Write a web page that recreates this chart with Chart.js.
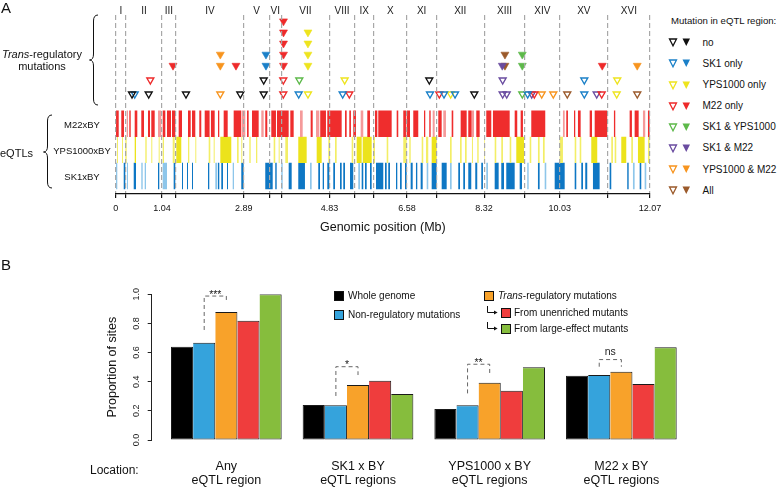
<!DOCTYPE html>
<html>
<head>
<meta charset="utf-8">
<script src="https://cdn.jsdelivr.net/npm/chart.js@4.4.1/dist/chart.umd.min.js"></script>
<style>
  body { margin: 0; width: 778px; height: 488px; position: relative; overflow: hidden; background: #fff;
         font-family: "Liberation Sans", Arial, sans-serif; color: #111; }
  .box { position: absolute; }
  .t { position: absolute; white-space: nowrap; transform: translateY(-50%); line-height: 1; }
  .sq { position: absolute; width: 8px; height: 8px; border: 1px solid #111; box-sizing: content-box; transform: translateY(-50%); }
  #overlay { position: absolute; left: 0; top: 0; pointer-events: none; }
</style>
</head>
<body>

<div id="boxA" class="box" style="left:0;top:0;width:668px;height:240px"><canvas id="chartA"></canvas></div>
<div id="boxB" class="box" style="left:0;top:250px;width:778px;height:238px"><canvas id="chartB"></canvas></div>

<!-- panel letters and side labels -->
<div class="t" style="left:1px;top:7px;font-size:15px">A</div>
<div class="t" style="left:1px;top:264px;font-size:15px">B</div>
<div class="t" style="left:0;width:84px;top:61px;font-size:11px;line-height:11.7px;text-align:center"><i>Trans</i>-regulatory<br>mutations</div>
<div class="t" style="left:0;top:153px;font-size:11px">eQTLs</div>
<div class="t" style="left:51px;width:62px;top:125px;font-size:9.5px;text-align:center">M22xBY</div>
<div class="t" style="left:51px;width:62px;top:151px;font-size:9.5px;text-align:center">YPS1000xBY</div>
<div class="t" style="left:51px;width:62px;top:177px;font-size:9.5px;text-align:center">SK1xBY</div>
<div class="t" style="left:671px;top:21px;font-size:9.6px">Mutation in eQTL region:</div>
<div id="legendA"></div>

<!-- panel B legend -->
<div class="sq" style="left:334px;top:296px;background:#000"></div>
<div class="t" style="left:348px;top:296px;font-size:10px">Whole genome</div>
<div class="sq" style="left:334px;top:315px;background:#35a3dc"></div>
<div class="t" style="left:348px;top:315px;font-size:10px">Non-regulatory mutations</div>
<div class="sq" style="left:484px;top:296px;background:#f8a22a"></div>
<div class="t" style="left:498px;top:296px;font-size:10px"><i>Trans</i>-regulatory mutations</div>
<div class="sq" style="left:501px;top:313px;background:#ef3d3d"></div>
<div class="t" style="left:514px;top:313px;font-size:10px">From unenriched mutants</div>
<div class="sq" style="left:501px;top:329px;background:#86bd3d"></div>
<div class="t" style="left:514px;top:329px;font-size:10px">From large-effect mutants</div>
<div class="t" style="left:90px;top:470px;font-size:12px">Location:</div>

<svg id="overlay" width="778" height="488">
  <g fill="none" stroke="#111" stroke-width="1">
    <path d="M98 15 Q93.5 15 93.5 21 L93.5 54 Q93.5 60 89.5 60 Q93.5 60 93.5 66 L93.5 99 Q93.5 105 98 105"/>
    <path d="M52 115 Q47.5 115 47.5 121 L47.5 146 Q47.5 152 43.5 152 Q47.5 152 47.5 158 L47.5 182 Q47.5 188 52 188"/>
    <path d="M487.5 306 L487.5 312.5 L494.5 312.5"/>
    <path d="M487.5 322 L487.5 328.5 L494.5 328.5"/>
  </g>
  <polygon points="494,310.6 497.6,312.5 494,314.4" fill="#111"/>
  <polygon points="494,326.6 497.6,328.5 494,330.4" fill="#111"/>
</svg>

<script>
Chart.defaults.font.family = '"Liberation Sans", Arial, sans-serif';
Chart.defaults.color = '#111';

// ---------- Panel A data ----------
const chrNames = ['I','II','III','IV','V','VI','VII','VIII','IX','X','XI','XII','XIII','XIV','XV','XVI'];
const chrLengths = [0.230, 0.813, 0.317, 1.532, 0.577, 0.270, 1.091, 0.563, 0.440, 0.746, 0.667, 1.078, 0.924, 0.784, 1.091, 0.948];
const labeledBoundaries = [0, 2, 4, 7, 10, 12, 14, 16];

// mutation classes (legend order)
const mutClasses = ['no', 'SK1 only', 'YPS1000 only', 'M22 only', 'SK1 & YPS1000', 'SK1 & M22', 'YPS1000 & M22', 'All'];
const mutColors = ['#111111', '#1b80c8', '#eee41e', '#ee2a2a', '#5db94a', '#6a4ca0', '#f7941e', '#9b5a2b'];

// trans-regulatory mutations: [position (Mb), stack row]
const noOpen = [[0.366,1],[0.743,1],[1.586,1],[2.814,1],[3.342,1],[3.342,2],[7.085,2],[8.102,1]];
const noFilled = [];
const sk1Open = [[0.427,1],[4.133,1],[5.127,1],[7.101,1],[7.417,1],[7.666,1],[9.308,1],[10.588,1],[10.588,2]];
const sk1Filled = [[3.394,1],[3.394,2]];
const ypsOpen = [[4.343,1],[5.172,2],[7.568,1],[11.320,1],[11.333,2]];
const ypsFilled = [[4.343,1],[4.343,2],[4.343,3],[4.343,4]];
const m22Open = [[0.780,2],[3.785,1],[3.785,2],[5.277,1],[7.311,1],[9.458,1],[10.981,1]];
const m22Filled = [[1.293,1],[2.716,1],[3.790,1],[3.790,2],[3.790,3],[3.790,4],[3.790,5],[10.994,1]];
const sk1YpsOpen = [[4.147,2],[9.187,1]];
const sk1YpsFilled = [[9.187,1],[9.187,2]];
const sk1M22Open = [[8.743,1],[8.743,2],[8.834,1],[9.399,1],[10.868,1]];
const sk1M22Filled = [[8.735,1]];
const ypsM22Open = [[2.362,1],[9.625,1],[9.887,1]];
const ypsM22Filled = [[2.362,1],[2.362,2],[11.785,1]];
const allOpen = [[10.203,1],[11.785,1]];
const allFilled = [[8.795,1],[8.795,2]];

// eQTL intervals [start, end] in Mb
const m22Strong = [[0.005,0.066],[0.124,0.185],[0.305,0.337],[0.427,0.486],[0.576,0.637],[0.728,0.773],[0.802,0.879],[1.060,1.119],[1.157,1.247],[1.270,1.345],[1.421,1.496],[1.632,1.693],[1.722,1.797],[1.887,1.932],[2.009,2.120],[2.150,2.235],[2.310,2.339],[2.438,2.529],[2.664,2.836],[2.965,3.003],[3.078,3.229],[3.378,3.424],[3.514,3.620],[3.643,3.907],[3.944,4.020],[4.404,4.450],[4.620,4.750],[4.780,5.105],[5.180,5.218],[5.277,5.315],[5.367,5.428],[5.684,5.745],[5.858,5.910],[5.932,6.235],[6.348,6.384],[6.497,6.558],[6.574,6.649],[6.723,6.836],[6.965,6.994],[7.085,7.116],[7.288,7.365],[7.591,7.627],[7.794,7.930],[7.966,8.043],[8.147,8.224],[8.373,8.486],[8.524,8.902],[9.015,9.073],[9.150,9.202],[9.390,9.706],[10.181,10.219],[10.355,10.384],[10.445,10.506],[10.710,10.762],[10.823,11.107],[11.258,11.288],[11.613,11.665],[11.726,11.817],[12.027,12.066]];
const m22Weak = [[0.246,0.276],[0.954,1.028],[2.852,2.927],[3.288,3.342],[4.163,4.224],[4.524,4.600],[5.534,5.593],[7.162,7.207],[7.401,7.462],[8.050,8.095],[10.106,10.145],[11.914,11.966]];
const ypsStrong = [[0.427,0.456],[1.367,1.480],[2.362,2.610],[4.124,4.314],[4.540,4.653],[5.444,5.557],[5.580,5.783],[7.139,7.252],[9.051,9.225],[10.746,10.881],[11.424,11.537],[11.801,11.952]];
const ypsWeak = [[0.027,0.050],[0.140,0.163],[0.215,0.246],[0.576,0.592],[0.667,0.698],[0.802,0.825],[0.969,0.992],[1.060,1.089],[1.286,1.331],[1.632,1.661],[1.797,1.819],[1.932,1.948],[2.099,2.136],[2.212,2.235],[2.739,2.777],[2.836,2.859],[3.017,3.049],[3.168,3.198],[3.568,3.604],[3.681,3.704],[3.831,3.892],[4.802,4.841],[4.954,4.992],[5.331,5.367],[5.819,5.858],[6.122,6.158],[6.497,6.574],[6.633,6.665],[6.913,6.949],[7.010,7.062],[7.553,7.591],[7.779,7.817],[7.892,7.930],[8.049,8.072],[8.169,8.201],[8.321,8.337],[8.563,8.599],[8.712,8.750],[8.902,8.938],[9.354,9.390],[9.541,9.579],[9.654,9.693],[10.032,10.106],[10.371,10.407],[10.484,10.520],[11.198,11.236],[11.275,11.311],[11.650,11.688],[12.027,12.066]];
const sk1Strong = [[0.179,0.215],[0.405,0.456],[0.954,0.983],[1.308,1.345],[1.496,1.519],[1.609,1.632],[1.722,1.745],[2.084,2.113],[2.310,2.339],[2.384,2.423],[2.513,2.536],[2.836,2.890],[3.378,3.546],[3.604,3.636],[3.907,3.975],[4.124,4.275],[4.576,4.615],[4.676,4.705],[4.780,4.825],[4.915,4.954],[5.067,5.105],[5.141,5.180],[5.293,5.367],[5.557,5.593],[5.632,5.670],[5.745,5.783],[5.880,6.045],[6.084,6.122],[6.158,6.197],[6.332,6.362],[6.423,6.462],[6.536,6.574],[6.664,6.710],[6.784,6.814],[6.890,6.936],[7.139,7.252],[7.365,7.478],[7.740,7.779],[7.853,7.892],[7.966,8.034],[8.124,8.169],[8.260,8.298],[8.563,8.653],[8.712,8.773],[8.825,9.015],[9.128,9.180],[9.541,9.579],[9.919,10.145],[10.371,10.407],[10.520,10.559],[10.610,10.655],[10.784,10.935],[11.161,11.198],[11.559,11.591],[11.840,11.876]];
const sk1Weak = [[0.005,0.034],[0.253,0.276],[0.576,0.608],[0.653,0.682],[1.060,1.157],[2.249,2.294],[2.642,2.671],[3.740,3.772],[4.389,4.427],[5.480,5.519],[7.026,7.062],[7.553,7.591],[8.373,8.411],[9.299,9.331],[9.693,9.729],[11.688,11.726],[11.952,11.989]];

// ---------- Panel B data ----------
const locations = [['Any', 'eQTL region'], ['SK1 x BY', 'eQTL regions'], ['YPS1000 x BY', 'eQTL regions'], ['M22 x BY', 'eQTL regions']];
const wholeGenome = [0.640, 0.240, 0.213, 0.441];
const nonRegulatory = [0.668, 0.238, 0.238, 0.446];
const transRegulatory = [0.879, 0.377, 0.393, 0.469];
const fromUnenriched = [0.819, 0.407, 0.338, 0.384];
const fromLargeEffect = [1.000, 0.316, 0.499, 0.636];
// non-regulatory vs trans-regulatory comparison brackets
const bracketTop = [0.988, 0.503, 0.520, 0.552];
const bracketLeftEnd = [0.755, 0.302, 0.320, 0.503];
const bracketRightEnd = [0.945, 0.446, 0.458, 0.503];
const sigText = ['***', '*', '**', 'ns'];

// ---------- Panel A ----------
const bounds = [0];
chrLengths.forEach(l => bounds.push(bounds[bounds.length - 1] + l));
const genomeEnd = bounds[bounds.length - 1];
const mids = chrLengths.map((l, i) => bounds[i] + l / 2);

const OPEN_STEP = 1.26;
const FILLED_BASE = 1.56;

function triSet(list, color, filled) {
  return {
    type: 'scatter',
    yAxisID: 'yTri',
    data: list.map(([pos, row]) => ({ x: pos, y: filled ? FILLED_BASE + row : (row - 1) * OPEN_STEP })),
    pointStyle: 'triangle',
    pointRotation: 180,
    pointRadius: filled ? 4.6 : 4.0,
    pointBackgroundColor: filled ? color : 'rgba(255,255,255,0)',
    pointBorderColor: color,
    pointBorderWidth: filled ? 0.6 : 1.4
  };
}

function eqtlSet(list, row, color) {
  const pts = [];
  list.slice().sort((a, b) => a[0] - b[0]).forEach(([a, b]) => {
    pts.push({ x: a, y: row }, { x: b, y: row }, { x: b, y: null });
  });
  return {
    type: 'line',
    yAxisID: 'yQ',
    data: pts,
    borderColor: color,
    borderWidth: 26.4,
    borderCapStyle: 'butt',
    pointRadius: 0,
    tension: 0,
    spanGaps: false,
    fill: false
  };
}

const openLists = [noOpen, sk1Open, ypsOpen, m22Open, sk1YpsOpen, sk1M22Open, ypsM22Open, allOpen];
const filledLists = [noFilled, sk1Filled, ypsFilled, m22Filled, sk1YpsFilled, sk1M22Filled, ypsM22Filled, allFilled];

const datasetsA = [
  eqtlSet(m22Weak, 2.5, '#f59a9a'),
  eqtlSet(m22Strong, 2.5, '#ef2d2d'),
  eqtlSet(ypsWeak, 1.5, '#f3ee66'),
  eqtlSet(ypsStrong, 1.5, '#ece31c'),
  eqtlSet(sk1Weak, 0.5, '#8ec6ea'),
  eqtlSet(sk1Strong, 0.5, '#0e77c4')
];
mutClasses.forEach((name, i) => {
  datasetsA.push(triSet(openLists[i], mutColors[i], false));
  datasetsA.push(triSet(filledLists[i], mutColors[i], true));
});

// chromosome numerals above the dashed boundaries
const chrLabels = {
  id: 'chrLabels',
  afterDraw(chart) {
    const { ctx, scales, chartArea } = chart;
    ctx.save();
    ctx.font = '10px "Liberation Sans", Arial, sans-serif';
    ctx.fillStyle = '#222';
    ctx.textAlign = 'center';
    ctx.textBaseline = 'middle';
    mids.forEach((m, i) => ctx.fillText(chrNames[i], scales.x.getPixelForValue(m), chartArea.top - 3.5));
    ctx.restore();
  }
};

new Chart(document.getElementById('chartA'), {
  type: 'scatter',
  data: { datasets: datasetsA },
  plugins: [chrLabels],
  options: {
    responsive: true,
    maintainAspectRatio: false,
    animation: false,
    events: [],
    layout: { padding: { left: 115.8, right: 18.1, top: 15, bottom: 0 } },
    plugins: { legend: { display: false }, tooltip: { enabled: false } },
    scales: {
      x: {
        type: 'linear', position: 'bottom', min: 0, max: genomeEnd,
        afterBuildTicks: s => { s.ticks = bounds.map(v => ({ value: v })); },
        afterFit: s => { s.height = 46.5; },
        ticks: {
          autoSkip: false, maxRotation: 0, padding: 5.6, color: '#111', font: { size: 9 },
          callback: (v, i) => labeledBoundaries.includes(i) ? (i === 0 ? '0' : v.toFixed(2)) : ''
        },
        grid: { color: '#a8a8a8', lineWidth: 1.2, z: 1, drawTicks: true, tickLength: 4.5,
                tickColor: '#111', tickWidth: 1.2, tickBorderDash: [] },
        border: { display: true, color: '#111', width: 1.3, dash: [5, 3], z: 2 },
        title: { display: true, text: 'Genomic position (Mb)', color: '#111', font: { size: 12.5 },
                 padding: { top: 0, bottom: 4.5 } }
      },
      yTri: { type: 'linear', display: false, min: -8.964, max: 7.117 },
      yQ: { type: 'linear', display: false, min: -0.172, max: 6.667 }
    }
  }
});

// legend for panel A
const legendA = document.getElementById('legendA');
mutClasses.forEach((name, i) => {
  const y = 42.7 + i * 21.15;
  const c = mutColors[i];
  legendA.insertAdjacentHTML('beforeend', `
    <svg style="position:absolute;left:668px;top:${y - 4.5}px" width="24" height="10">
      <polygon points="1.5,1 8.5,1 5,7.8" fill="none" stroke="${c}" stroke-width="1.3"/>
      <polygon points="14.5,0.5 22,0.5 18.25,8" fill="${c}"/>
    </svg>
    <div class="t" style="left:702.5px;top:${y}px;font-size:10px">${name}</div>`);
});

// ---------- Panel B ----------
const seriesB = [
  { label: 'Whole genome', data: wholeGenome, color: '#000000' },
  { label: 'Non-regulatory mutations', data: nonRegulatory, color: '#35a3dc' },
  { label: 'Trans-regulatory mutations', data: transRegulatory, color: '#f8a22a' },
  { label: 'From unenriched mutants', data: fromUnenriched, color: '#ef3d3d' },
  { label: 'From large-effect mutants', data: fromLargeEffect, color: '#86bd3d' }
];

const datasetsB = seriesB.map((s, j) => ({
  label: s.label,
  data: s.data,
  backgroundColor: s.color,
  borderColor: '#1a1a1a',
  borderWidth: { top: 1, right: 1, bottom: 1, left: j === 0 ? 1 : 0 },
  borderSkipped: false,
  categoryPercentage: 0.8405,
  barPercentage: 1.0
}));

// dashed comparison brackets between the non-regulatory and trans-regulatory bars
const sigBrackets = {
  id: 'sigBrackets',
  afterDatasetsDraw(chart) {
    const { ctx, scales } = chart;
    const left = chart.getDatasetMeta(1).data;
    const right = chart.getDatasetMeta(2).data;
    ctx.save();
    ctx.strokeStyle = '#666';
    ctx.lineWidth = 1;
    ctx.setLineDash([4, 3]);
    bracketTop.forEach((top, i) => {
      const xl = left[i].x, xr = right[i].x;
      const yt = scales.y.getPixelForValue(top);
      ctx.beginPath();
      ctx.moveTo(xl, scales.y.getPixelForValue(bracketLeftEnd[i]));
      ctx.lineTo(xl, yt);
      ctx.lineTo(xr, yt);
      ctx.lineTo(xr, scales.y.getPixelForValue(bracketRightEnd[i]));
      ctx.stroke();
    });
    ctx.setLineDash([]);
    ctx.font = '10.5px "Liberation Sans", Arial, sans-serif';
    ctx.fillStyle = '#222';
    ctx.textAlign = 'center';
    ctx.textBaseline = 'alphabetic';
    sigText.forEach((t, i) => {
      const x = (left[i].x + right[i].x) / 2;
      const y = scales.y.getPixelForValue(bracketTop[i]);
      ctx.fillText(t, x, t === 'ns' ? y - 5 : y + 1.5);
    });
    ctx.restore();
  }
};

new Chart(document.getElementById('chartB'), {
  type: 'bar',
  data: { labels: locations, datasets: datasetsB },
  plugins: [sigBrackets],
  options: {
    responsive: true,
    maintainAspectRatio: false,
    animation: false,
    events: [],
    layout: { padding: { left: 104.8, right: 90.8, top: 44.3, bottom: 0 } },
    plugins: { legend: { display: false }, tooltip: { enabled: false } },
    scales: {
      x: {
        type: 'category', position: 'bottom', offset: true,
        grid: { display: false, drawTicks: false },
        border: { display: false },
        ticks: { padding: 20, color: '#111', font: { size: 12.5, lineHeight: 1.07 }, maxRotation: 0, autoSkip: false },
        afterFit: s => { s.height = 48; }
      },
      y: {
        type: 'linear', position: 'left', weight: 1, min: 0, max: 1,
        ticks: { stepSize: 0.2, minRotation: 90, maxRotation: 90, crossAlign: 'center', padding: 4.5,
                 font: { size: 9 }, color: '#222', callback: v => v.toFixed(1) },
        grid: { drawOnChartArea: false, drawTicks: true, tickLength: 4, tickColor: '#222', tickWidth: 1 },
        border: { display: true, color: '#222', width: 1 },
        title: { display: true, text: 'Proportion of sites', font: { size: 12.5 }, color: '#111', padding: 0 },
        afterFit: s => { s.width = 46.9; }
      },
      ySpacer: {
        type: 'linear', position: 'left', weight: 0,
        grid: { display: false, drawTicks: false },
        border: { display: false },
        ticks: { display: false },
        afterFit: s => { s.width = 8.8; }
      }
    }
  }
});
</script>
</body>
</html>
